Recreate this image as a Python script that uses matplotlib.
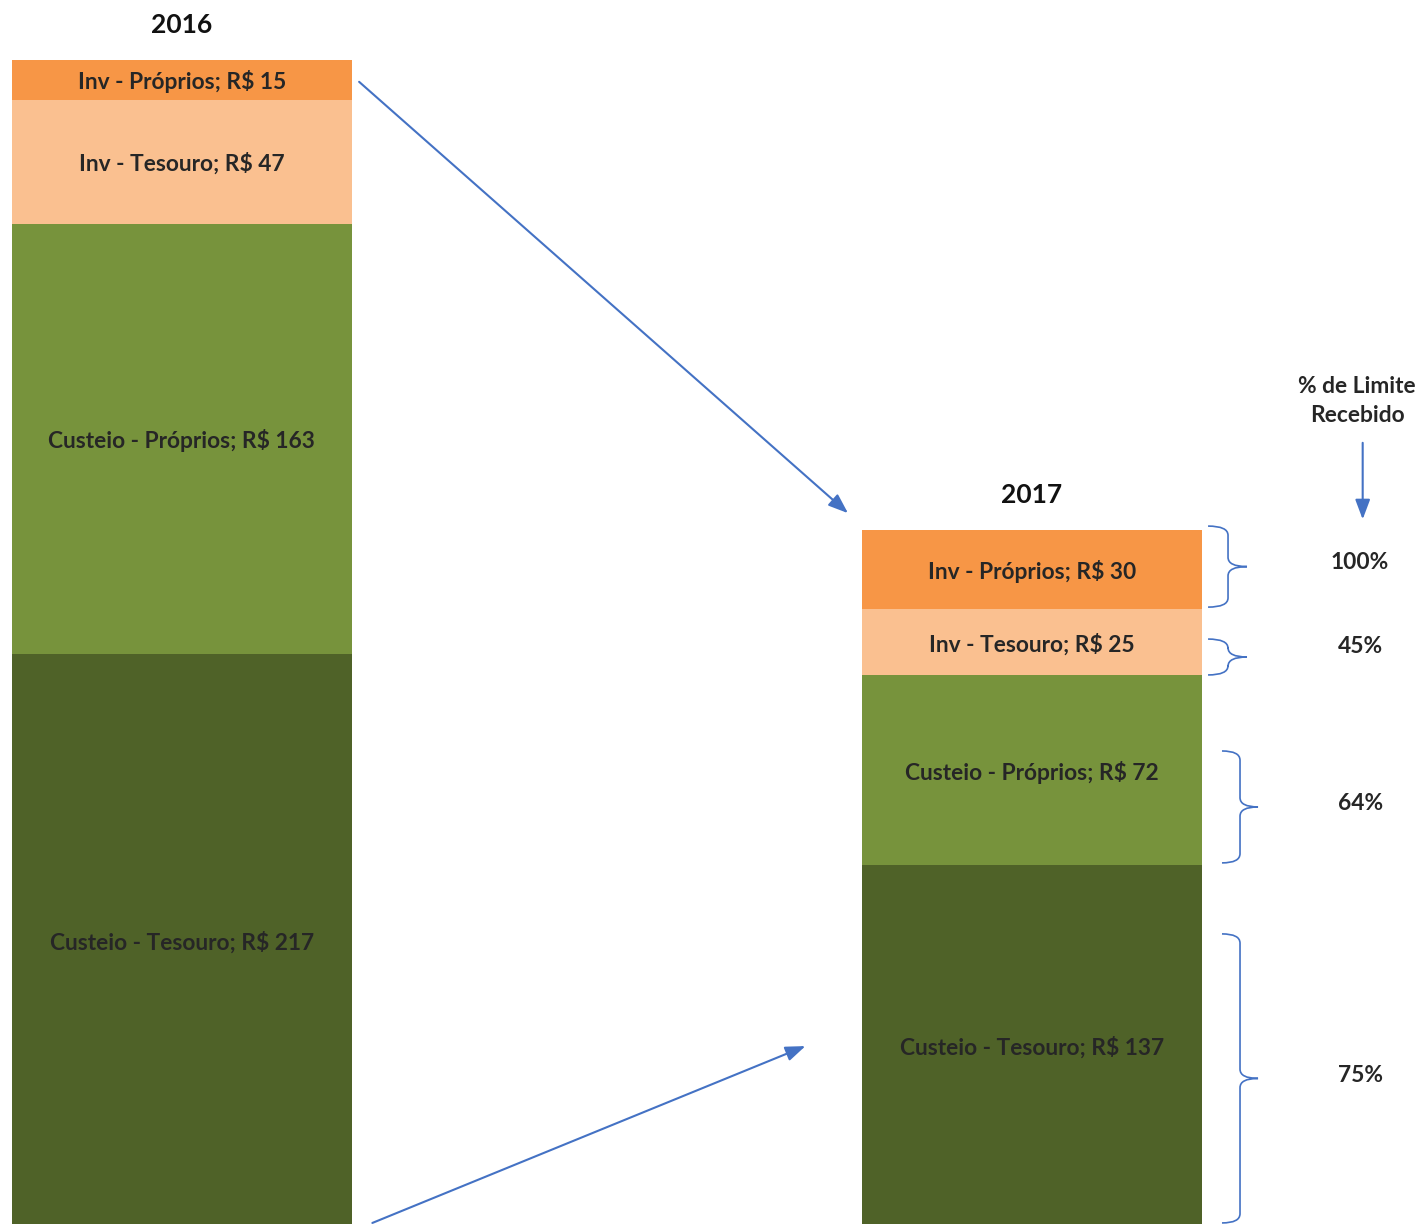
import matplotlib.pyplot as plt
from matplotlib.path import Path
from matplotlib.patches import PathPatch

plt.rcParams['font.family'] = ['Lato', 'DejaVu Sans']

# data
years = ['2016', '2017']
categories = ['Custeio - Tesouro', 'Custeio - Próprios', 'Inv - Tesouro', 'Inv - Próprios']
values_2016 = [217, 163, 47, 15]
values_2017 = [137, 72, 25, 30]
pct_received = ['75%', '64%', '45%', '100%']
colors = ['#4F6228', '#77933C', '#FAC090', '#F79646']

# brace spans (value units) next to the 2017 bar, bottom->top
brace_spans = [(1.5, 111.0), (137.9, 180.3), (209.1, 222.7), (234.8, 265.5)]
pct_y = [57.5, 160.5, 220.0, 251.8]

fig = plt.figure(figsize=(14.21, 12.24), dpi=100)
ax = fig.add_axes([0, 0, 1, 1])

width = 0.4
for i, vals in enumerate([values_2016, values_2017]):
    bottom = 0
    for cat, v, c in zip(categories, vals, colors):
        ax.bar(i, v, width=width, bottom=bottom, color=c, edgecolor='none')
        # center labels in each segment
        ax.text(i, bottom + v / 2 - 0.7, f'{cat}; R$ {v}', ha='center', va='center',
                fontsize=16.4, fontweight='bold', color='#262626')
        bottom += v
    ax.text(i, bottom + 13.2, years[i], ha='center', va='center',
            fontsize=19, fontweight='bold', color='#111111')

arrow_kw = dict(arrowstyle='-|>,head_length=1.2,head_width=0.45', color='#4472C4', lw=1.5)
ax.annotate('', xy=(0.786, 269.7), xytext=(0.206, 434.5), arrowprops=arrow_kw)
ax.annotate('', xy=(1.389, 267.0), xytext=(1.389, 298.1), arrowprops=arrow_kw)
ax.annotate('', xy=(0.7365, 68.9), xytext=(0.221, 1.1), arrowprops=arrow_kw)

ax.text(1.3824, 313.0, '% de Limite\nRecebido', ha='center', va='center',
        fontsize=16.4, fontweight='bold', color='#262626', linespacing=1.45)


def brace(y0, y1, big):
    if big:
        xl, xv, xt = 1.2235, 1.2447, 1.2659
    else:
        xl, xv, xt = 1.2071, 1.2306, 1.2529
    r = 3.5
    ym = (y0 + y1) / 2
    verts = [(xl, y1), (xv, y1), (xv, y1 - r), (xv, y1 - r),
             (xv, ym + r), (xv, ym), (xt, ym),
             (xv, ym), (xv, ym - r), (xv, ym - r),
             (xv, y0 + r), (xv, y0), (xl, y0)]
    codes = [Path.MOVETO, Path.CURVE3, Path.CURVE3, Path.LINETO,
             Path.LINETO, Path.CURVE3, Path.CURVE3,
             Path.CURVE3, Path.CURVE3, Path.LINETO,
             Path.LINETO, Path.CURVE3, Path.CURVE3]
    ax.add_patch(PathPatch(Path(verts, codes), fill=False, edgecolor='#4472C4', lw=1.2))


for (y0, y1), p, yp in zip(brace_spans, pct_received, pct_y):
    brace(y0, y1, (y1 - y0) > 40)
    ax.text(1.386, yp, p, ha='center', va='center', fontsize=16.4,
            fontweight='bold', color='#262626')

ax.set_xlim(-0.214, 1.4576)
ax.set_ylim(1.1, 464.8)
ax.axis('off')

fig.savefig('out.png', dpi=100, facecolor='white')
